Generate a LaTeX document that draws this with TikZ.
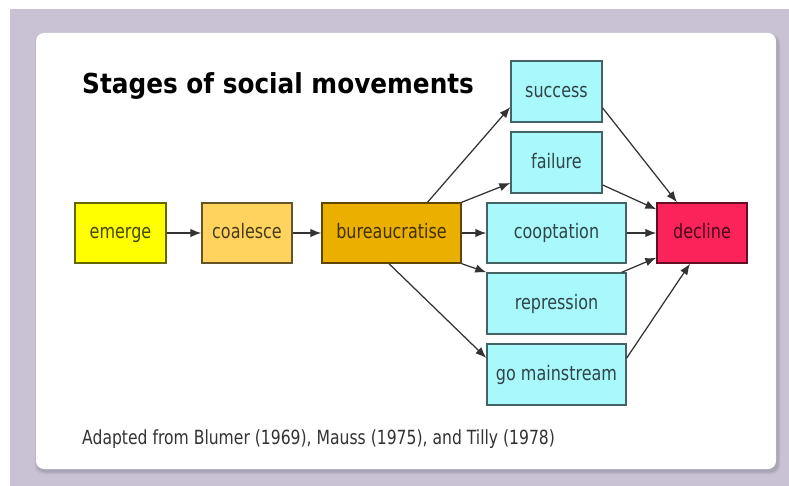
\documentclass[tikz,border=0pt]{standalone}
\usepackage{fontspec}
\setmainfont{DejaVu Sans}
\newfontfamily\labelfont[FakeStretch=0.8]{DejaVu Sans}
\newfontfamily\headfont[FakeStretch=0.9]{DejaVu Sans}
\usetikzlibrary{arrows.meta,calc}

\definecolor{pagebg}{HTML}{C8C2D4}
\definecolor{cardshadow}{HTML}{8E8A96}
\definecolor{emergefill}{HTML}{FFFF00}
\definecolor{coalescefill}{HTML}{FFD35E}
\definecolor{bureaufill}{HTML}{EBAF00}
\definecolor{outcomefill}{HTML}{A8F8FC}
\definecolor{declinefill}{HTML}{FB245A}
\definecolor{edgecol}{HTML}{333333}

\tikzset{
  stage/.style={draw=#1!40!black, fill=#1, text=#1!28!black,
    line width=1.4pt, inner sep=0pt, rectangle,
    text height=15pt, text depth=3pt,
    font=\labelfont\fontsize{20}{24}\selectfont},
  flow/.style={draw=edgecol, line width=1.25pt,
    -{Latex[length=11pt,width=8.5pt]}},
}

\begin{document}
\begin{tikzpicture}[x=1pt, y=-1pt]
  \useasboundingbox (0,0) rectangle (789,486);
  % page background
  \fill[white] (0,0) rectangle (789,486);
  \fill[pagebg] (10,9) rectangle (789,486);

  % soft shadow under the card
  \foreach \g/\o in {2.5/0.12, 1.5/0.18, 0.5/0.3}{
    \fill[cardshadow, opacity=\o, rounded corners=9pt]
      (36-\g+1,33-\g+3) rectangle (776+\g+2,469+\g+3);
  }
  \fill[white, rounded corners=8pt] (36,33) rectangle (776,469);

  % heading
  \node[anchor=base west, inner sep=0pt,
        font=\headfont\bfseries\fontsize{27.5}{32}\selectfont]
        (title) at (82,94) {Stages of social movements};

  % stages
  \node[stage=emergefill,   minimum width=91pt,  minimum height=60pt] (emerge) at (120.5,233) {emerge};
  \node[stage=coalescefill, minimum width=90pt,  minimum height=60pt] (coal)   at (247,233)   {coalesce};
  \node[stage=bureaufill,   minimum width=139pt, minimum height=60pt] (bur)    at (391.5,233) {bureaucratise};
  \node[stage=outcomefill,  minimum width=91pt,  minimum height=61pt] (succ)   at (556.5,91.5)  {success};
  \node[stage=outcomefill,  minimum width=91pt,  minimum height=61pt] (fail)   at (556.5,162.5) {failure};
  \node[stage=outcomefill,  minimum width=139pt, minimum height=60pt] (coop)   at (556.5,233)   {cooptation};
  \node[stage=outcomefill,  minimum width=139pt, minimum height=61pt] (repr)   at (556.5,303.5) {repression};
  \node[stage=outcomefill,  minimum width=139pt, minimum height=61pt] (gm)     at (556.5,374.5) {go mainstream};
  \node[stage=declinefill,  minimum width=90pt,  minimum height=60pt] (decl)   at (702,233)     {decline};

  % connectors
  \draw[flow] (emerge.east) -- (coal.west);
  \draw[flow] (coal.east) -- (bur.west);
  \draw[flow] ([xshift=36pt]bur.north) -- ([yshift=-15.5pt]succ.west);
  \draw[flow] (bur.north east) -- ([yshift=-20.5pt]fail.west);
  \draw[flow] (bur.east) -- (coop.west);
  \draw[flow] (bur.south east) -- (repr.north west);
  \draw[flow] ([xshift=-2.5pt]bur.south) -- ([yshift=16.5pt]gm.west);
  \draw[flow] ([yshift=-16.5pt]succ.east) -- ([xshift=-25pt]decl.north);
  \draw[flow] ([yshift=-22.5pt]fail.east) -- ([yshift=-7pt]decl.north west);
  \draw[flow] (coop.east) -- (decl.west);
  \draw[flow] ([xshift=-5pt]repr.north east) -- ([yshift=6pt]decl.south west);
  \draw[flow] ([yshift=16.5pt]gm.east) -- ([xshift=-12pt]decl.south);

  % source note
  \node[anchor=base west, inner sep=0pt, text=black!80,
        font=\labelfont\fontsize{19.5}{24}\selectfont]
        (note) at (82,444) {Adapted from Blumer (1969), Mauss (1975), and Tilly (1978)};
\end{tikzpicture}
\end{document}
